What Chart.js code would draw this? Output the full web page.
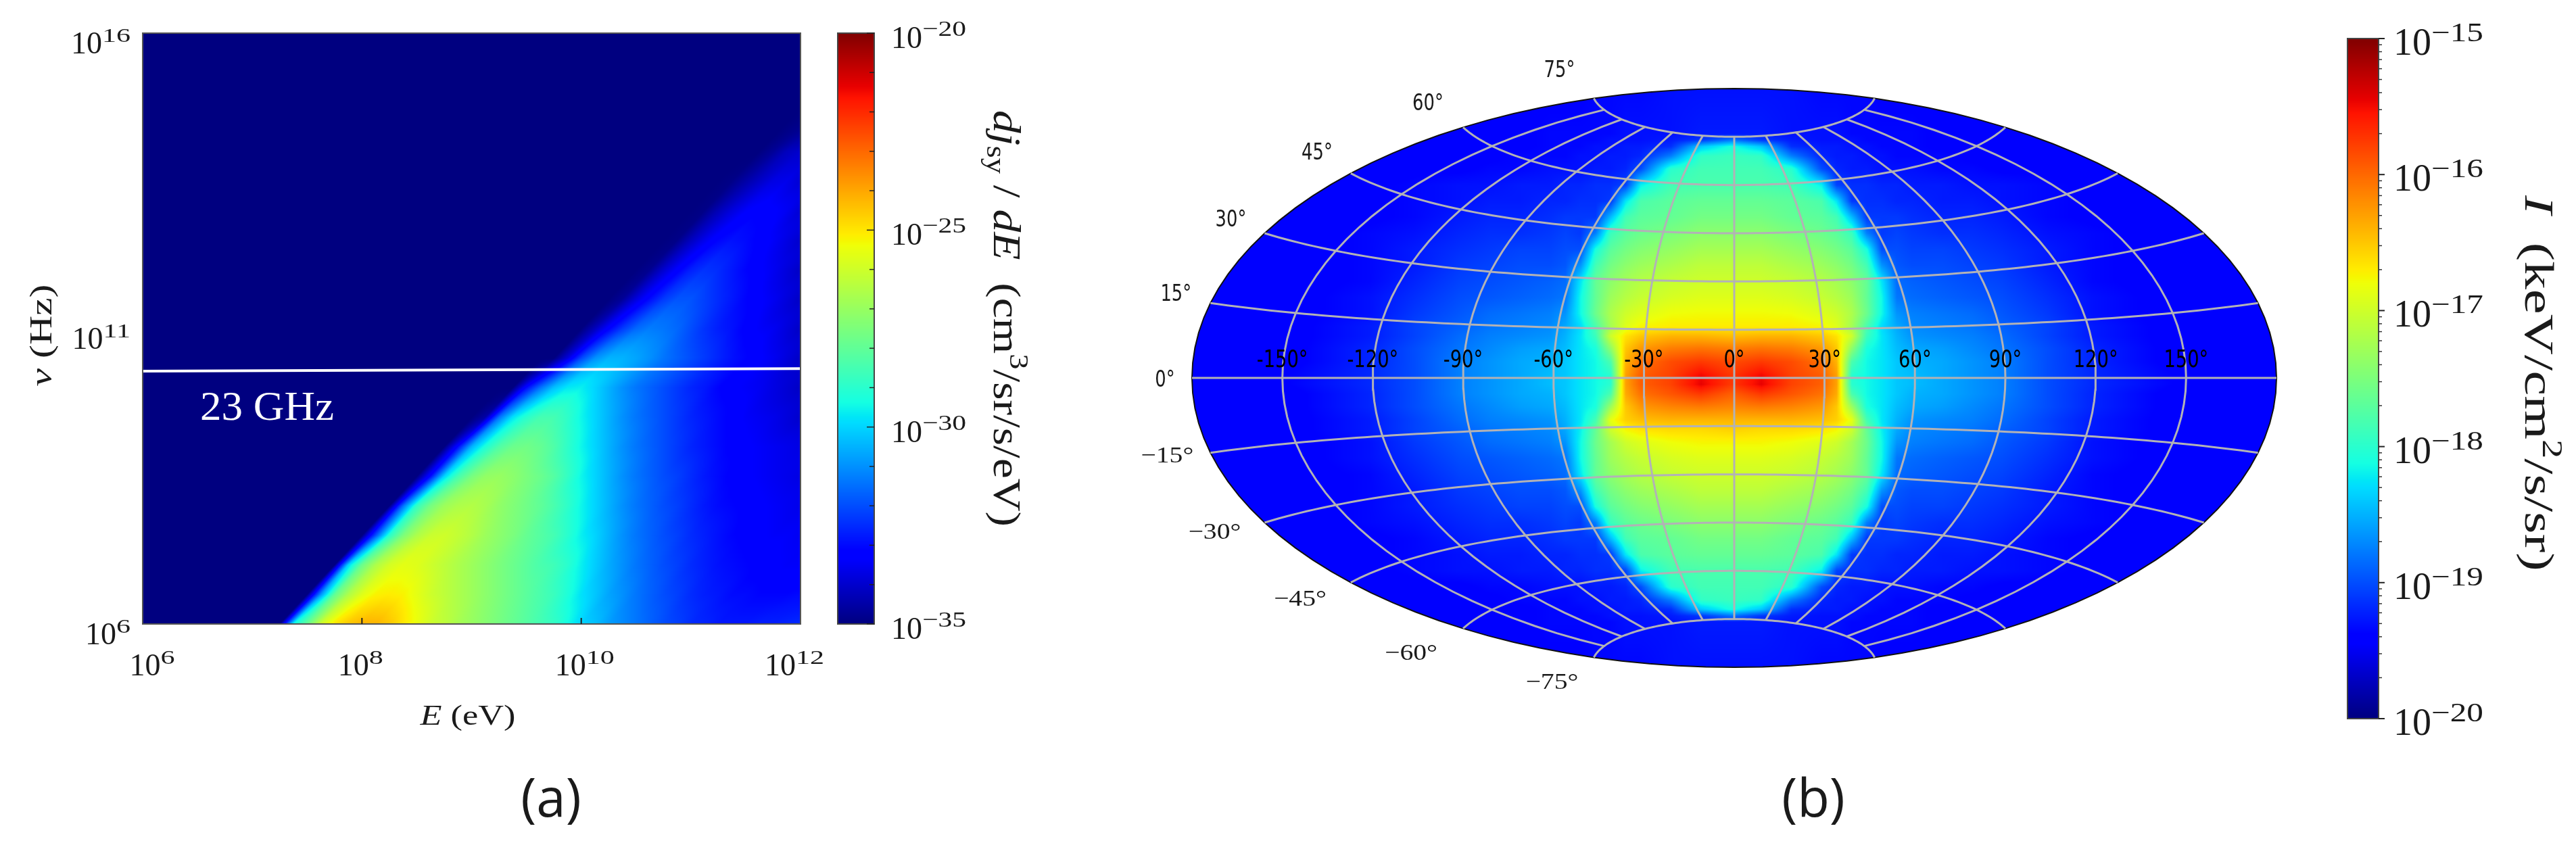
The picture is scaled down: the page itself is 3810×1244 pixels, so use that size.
<!DOCTYPE html>
<html>
<head>
<meta charset="utf-8">
<title>Synchrotron emissivity and sky map</title>
<script src="https://cdn.jsdelivr.net/npm/chart.js@4"></script>
<style>
    html, body { margin: 0; background: #fff; }
    #page { position: relative; width: 3810px; height: 1244px; overflow: hidden; }
    #page canvas { position: absolute; left: 0; top: 0; }
</style>
</head>
<body>
<div id="page">
    <canvas id="spectrumChart" width="3810" height="1244"></canvas>
    <canvas id="spectrumBar" width="3810" height="1244"></canvas>
    <canvas id="skyChart" width="3810" height="1244"></canvas>
    <canvas id="skyBar" width="3810" height="1244"></canvas>
</div>
<script>
// ---- Panel (a): log10(dj/dE) ----
const energyExp = [6, 6.125, 6.25, 6.375, 6.5, 6.625, 6.75, 6.875, 7, 7.125, 7.25, 7.375, 7.5, 7.625, 7.75, 7.875,
    8, 8.125, 8.25, 8.375, 8.5, 8.625, 8.75, 8.875, 9, 9.125, 9.25, 9.375, 9.5, 9.625, 9.75, 9.875,
    10, 10.125, 10.25, 10.375, 10.5, 10.625, 10.75, 10.875, 11, 11.125, 11.25, 11.375, 11.5, 11.625, 11.75, 11.875, 12];
const freqExp = [6, 6.5, 7, 7.5, 8, 8.5, 9, 9.5, 10, 10.5, 11, 11.5, 12, 12.5, 13, 13.5, 14, 14.5, 15, 15.5, 16];
const emissivityFloor = -35;
// each row ends at E = 10^12, everything to its left is the floor value
const emissivityRows = [
    [-29.4,-27.9,-26,-25,-24.5,-24.2,-24.2,-24.5,-25,-25.5,-26,-26.3,-26.7,-27,-27.3,-27.6,-27.9,-28.2,-28.5,-28.8,-29.4,
     -30,-30.3,-30.8,-31.1,-31.4,-31.7,-32,-32.2,-32.5,-32.6,-32.8,-32.8,-32.8,-32.7,-32.7,-32.6,-32.5],
    [-31,-28,-26.6,-25.7,-25.2,-25.1,-25.2,-25.6,-26,-26.3,-26.6,-26.9,-27.2,-27.5,-27.8,-28.1,-28.4,-28.7,-29.2,
     -29.8,-30.2,-30.7,-31,-31.4,-31.7,-32,-32.2,-32.5,-32.7,-32.8,-33,-33,-33.1,-33.1,-33.1,-33],
    [-30,-27.8,-26.6,-25.9,-25.6,-25.7,-26,-26.3,-26.6,-26.9,-27.2,-27.5,-27.8,-28.1,-28.4,-28.6,-29,
     -29.6,-30.1,-30.6,-31,-31.4,-31.7,-32,-32.2,-32.5,-32.7,-32.9,-33,-33.1,-33.2,-33.3,-33.4,-33.4],
    [-32,-29,-27.5,-26.6,-26.1,-26,-26.2,-26.5,-26.9,-27.2,-27.5,-27.9,-28.2,-28.5,-29,
     -29.6,-30,-30.5,-31,-31.4,-31.7,-32,-32.2,-32.5,-32.7,-32.9,-33.1,-33.2,-33.3,-33.4,-33.4,-33.5],
    [-31.5,-28.8,-27.6,-26.9,-26.6,-26.5,-26.7,-27.1,-27.4,-27.7,-28,-28.4,-28.9,
     -29.5,-30,-30.5,-31,-31.4,-31.7,-32,-32.2,-32.5,-32.8,-33,-33.1,-33.2,-33.3,-33.4,-33.5,-33.6],
    [-33,-30,-28.5,-27.6,-27.1,-27,-27.2,-27.5,-27.8,-28.2,-28.8,
     -29.5,-30,-30.5,-31,-31.4,-31.7,-32,-32.2,-32.5,-32.8,-33,-33.2,-33.3,-33.4,-33.5,-33.6,-33.7],
    [-33,-30.5,-29.2,-28.3,-27.8,-27.7,-27.9,-28.3,-28.9,
     -29.5,-30,-30.5,-31,-31.4,-31.7,-32,-32.3,-32.6,-32.8,-33,-33.2,-33.3,-33.4,-33.5,-33.6,-33.7],
    [-34.5,-31.5,-29.8,-29,-28.5,-28.5,-28.9,
     -29.5,-30,-30.5,-31,-31.4,-31.7,-32,-32.3,-32.6,-32.8,-33,-33.2,-33.4,-33.5,-33.6,-33.8,-34],
    [-33,-31.5,-30.3,-29.7,
     -29.6,-30,-30.5,-31,-31.4,-31.7,-32,-32.3,-32.6,-32.8,-33.1,-33.3,-33.4,-33.5,-33.7,-33.9,-34.1],
    [-33.8,-32.1,-31,-30.5,-30.5,-30.7,-31,-31.4,-31.7,-32,-32.3,-32.6,-32.9,-33.1,-33.3,-33.5,-33.8,-34.1],
    [-34.2,-33.2,-32.3,-31.6,-31.3,-31.4,-31.6,-32,-32.4,-32.7,-32.9,-33.2,-33.4,-33.5,-33.8,-34.1],
    [-34.7,-33.8,-33,-32.3,-31.9,-31.9,-32.2,-32.5,-32.8,-33.1,-33.3,-33.5,-33.8,-34.1],
    [-34.8,-34,-33.3,-32.7,-32.4,-32.5,-32.8,-33.1,-33.3,-33.5,-33.8,-34.1],
    [-34.9,-34.2,-33.6,-33.1,-32.9,-33,-33.2,-33.4,-33.7,-34],
    [-34.9,-34.3,-33.8,-33.4,-33.2,-33.3,-33.5,-33.9],
    [-34.9,-34.5,-34.1,-33.7,-33.6,-33.9],
    [-34.7,-34.2,-34],
    [-34.9],
    [], [], []
];
// the cut-off edge moves this many decades of E per decade of frequency
const edgeSlope = 0.52;

// 23 GHz line, slightly tilted in the picture
const lineEnergy = [1e6, 1e12];
const lineFreq = [1.9e10, 2.1e10];
const lineLabel = '23 GHz';

const energyTicks = [1e6, 1e8, 1e10, 1e12];
const energyTickExp = ['6', '8', '10', '12'];
const freqTicks = [1e6, 1e11, 1e16];
const freqTickExp = ['6', '11', '16'];
const spectrumBarTicks = [1e-20, 1e-25, 1e-30, 1e-35];
const spectrumBarTickExp = ['−20', '−25', '−30', '−35'];
const spectrumBarMinorTicks = [1e-21, 1e-22, 1e-23, 1e-24, 1e-26, 1e-27, 1e-28, 1e-29, 1e-31, 1e-32, 1e-33, 1e-34];

// ---- Panel (b): log10(I) on the map plane, left/right mirrored around the centre ----
const mapAbsX = [0, 10, 20, 30, 35, 40, 45, 50, 55, 60, 70, 80, 90, 105, 120, 150, 180];
const mapCentreX = -1;
const rowY90 = [-19.3,-19.3,-19.3,-19.35,-19.35,-19.35,-19.35,-19.4,-19.4,-19.4,-19.4,-19.4,-19.45,-19.45,-19.45,-19.45,-19.45];
const rowY76 = [-19.25,-19.25,-19.3,-19.3,-19.3,-19.35,-19.35,-19.35,-19.35,-19.35,-19.4,-19.4,-19.4,-19.45,-19.45,-19.45,-19.45];
const rowY74 = [-18.8,-19.1,-19.25,-19.3,-19.3,-19.3,-19.35,-19.35,-19.35,-19.35,-19.4,-19.4,-19.4,-19.45,-19.45,-19.45,-19.45];
const rowY72 = [-18.1,-18.4,-19.15,-19.25,-19.25,-19.3,-19.3,-19.35,-19.35,-19.35,-19.4,-19.4,-19.4,-19.45,-19.45,-19.45,-19.45];
const rowY69 = [-17.9,-17.95,-18.75,-19.2,-19.25,-19.25,-19.3,-19.3,-19.35,-19.35,-19.35,-19.4,-19.4,-19.45,-19.45,-19.45,-19.45];
const rowY65 = [-17.85,-17.85,-18,-19,-19.2,-19.25,-19.25,-19.3,-19.3,-19.3,-19.35,-19.35,-19.4,-19.4,-19.45,-19.45,-19.45];
const rowY60 = [-17.8,-17.8,-17.85,-18.2,-19.05,-19.15,-19.15,-19.2,-19.2,-19.25,-19.25,-19.3,-19.3,-19.35,-19.4,-19.45,-19.45];
const rowY55 = [-17.65,-17.65,-17.7,-17.8,-18.25,-19.1,-19.15,-19.15,-19.2,-19.2,-19.25,-19.25,-19.3,-19.35,-19.4,-19.45,-19.45];
const rowY50 = [-17.55,-17.55,-17.65,-17.7,-17.85,-18.45,-19.1,-19.1,-19.1,-19.15,-19.2,-19.2,-19.25,-19.35,-19.4,-19.45,-19.45];
const rowY45 = [-17.4,-17.4,-17.5,-17.6,-17.7,-17.9,-18.75,-19.1,-19.05,-19.1,-19.15,-19.15,-19.2,-19.3,-19.35,-19.45,-19.45];
const rowY40 = [-17.25,-17.25,-17.35,-17.45,-17.55,-17.7,-18.1,-19,-19,-19.05,-19.05,-19.1,-19.15,-19.25,-19.35,-19.45,-19.45];
const rowY35 = [-17.1,-17.1,-17.2,-17.3,-17.4,-17.55,-17.85,-18.65,-18.95,-19,-19,-19.05,-19.1,-19.25,-19.35,-19.45,-19.45];
const rowY30 = [-17,-17,-17.05,-17.15,-17.25,-17.4,-17.65,-18.25,-18.85,-18.9,-18.95,-19,-19.05,-19.2,-19.35,-19.45,-19.45];
const rowY25 = [-16.9,-16.9,-16.95,-17.05,-17.15,-17.3,-17.65,-18.15,-18.8,-18.85,-18.9,-18.95,-19,-19.15,-19.3,-19.45,-19.45];
const rowY20 = [-16.78,-16.78,-16.8,-16.9,-17,-17.2,-17.6,-18.15,-18.65,-18.75,-18.8,-18.85,-18.95,-19.1,-19.3,-19.45,-19.45];
const rowY16 = [-16.7,-16.7,-16.7,-16.75,-16.9,-17.25,-17.8,-18.3,-18.55,-18.7,-18.75,-18.8,-18.9,-19.05,-19.25,-19.45,-19.45];
const rowY13 = [-16.45,-16.4,-16.4,-16.5,-16.65,-17,-17.9,-18.25,-18.5,-18.65,-18.7,-18.75,-18.85,-19.05,-19.25,-19.45,-19.45];
const rowY9 = [-16.1,-16.05,-16.1,-16.25,-16.5,-17.4,-18.1,-18.25,-18.45,-18.55,-18.6,-18.7,-18.8,-19,-19.2,-19.45,-19.45];
const rowY5 = [-15.85,-15.75,-15.85,-16.05,-16.4,-17.8,-18.15,-18.25,-18.4,-18.5,-18.55,-18.65,-18.75,-19,-19.2,-19.45,-19.45];
const rowY1 = [-15.75,-15.5,-15.8,-15.95,-16.3,-18,-18.15,-18.25,-18.4,-18.45,-18.55,-18.65,-18.75,-19,-19.18,-19.4,-19.45];
const rowYm2 = [-15.75,-15.45,-15.8,-15.95,-16.3,-18,-18.15,-18.25,-18.4,-18.45,-18.55,-18.65,-18.75,-19,-19.18,-19.4,-19.45];
const rowYm5 = [-15.95,-15.75,-15.9,-16.05,-16.35,-17.8,-18.15,-18.25,-18.4,-18.5,-18.55,-18.65,-18.75,-19,-19.2,-19.45,-19.45];
const rowYm9 = [-16.15,-16.1,-16.15,-16.25,-16.5,-17.3,-18.1,-18.25,-18.45,-18.55,-18.6,-18.7,-18.8,-19,-19.2,-19.45,-19.45];
const rowYm13 = [-16.4,-16.4,-16.4,-16.45,-16.55,-16.85,-17.85,-18.25,-18.5,-18.65,-18.7,-18.75,-18.85,-19.05,-19.25,-19.45,-19.45];
const rowYm16 = [-16.55,-16.6,-16.6,-16.65,-16.75,-17,-17.65,-18.2,-18.55,-18.7,-18.75,-18.8,-18.9,-19.05,-19.25,-19.45,-19.45];
const rowYm20 = [-16.75,-16.75,-16.8,-16.9,-17,-17.25,-17.6,-18.15,-18.65,-18.75,-18.8,-18.85,-18.95,-19.1,-19.3,-19.45,-19.45];

const mapY = [-90, -76, -74, -72, -69, -65, -60, -55, -50, -45, -40, -35, -30, -25, -20, -16, -13, -9, -5, -2,
    1, 5, 9, 13, 16, 20, 25, 30, 35, 40, 45, 50, 55, 60, 65, 69, 72, 74, 76, 90];
// south of the band the lobe repeats the north lobe
const mapRows = [rowY90, rowY76, rowY74, rowY72, rowY69, rowY65, rowY60, rowY55, rowY50, rowY45, rowY40, rowY35, rowY30, rowY25,
    rowYm20, rowYm16, rowYm13, rowYm9, rowYm5, rowYm2,
    rowY1, rowY5, rowY9, rowY13, rowY16, rowY20,
    rowY25, rowY30, rowY35, rowY40, rowY45, rowY50, rowY55, rowY60, rowY65, rowY69, rowY72, rowY74, rowY76, rowY90];

const lonTicks = [-150, -120, -90, -60, -30, 0, 30, 60, 90, 120, 150];
const latTicks = [75, 60, 45, 30, 15, 0, -15, -30, -45, -60, -75];
const skyBarTicks = [1e-15, 1e-16, 1e-17, 1e-18, 1e-19, 1e-20];
const skyBarTickExp = ['−15', '−16', '−17', '−18', '−19', '−20'];
const skyBarMinorFactors = [2, 3, 4, 5, 6, 7, 8, 9];

// ---- Layout (pixels on the page) ----
const spectrumArea = { left: 211, right: 1184, top: 49, bottom: 923 };
const spectrumBarArea = { left: 1239, right: 1293, top: 49, bottom: 923 };
const skyArea = { left: 1763, right: 3367, top: 131, bottom: 987 };
const skyBarArea = { left: 3472, right: 3518, top: 57, bottom: 1063 };
// label centre relative to the point where the parallel meets the map edge
const latLabelShift = [[-51, -44], [-52, -37], [-50, -32], [-50, -22], [-51, -15], [-40, 1],
    [-64, 2], [-74, 12], [-75, 22], [-77, 34], [-62, 35]];
const energyLabelShift = [14, -2, 5, -9];

const SERIF = '"Liberation Serif"';
const SANS = '"DejaVu Sans"';
const INK = '#1a1a1a';

// jet colormap, same breakpoints as matplotlib
const jetRed = [[0, 0], [0.35, 0], [0.66, 1], [0.89, 1], [1, 0.5]];
const jetGreen = [[0, 0], [0.125, 0], [0.375, 1], [0.64, 1], [0.91, 0], [1, 0]];
const jetBlue = [[0, 0.5], [0.11, 1], [0.34, 1], [0.65, 0], [1, 0]];

function channel(stops, f) {
    for (let i = 1; i < stops.length; i++) {
        if (f <= stops[i][0]) {
            const t = (f - stops[i - 1][0]) / (stops[i][0] - stops[i - 1][0]);
            return 255 * (stops[i - 1][1] + t * (stops[i][1] - stops[i - 1][1]));
        }
    }
    return 255 * stops[stops.length - 1][1];
}

// index of the node pair around v, plus the fraction between them
function bracket(nodes, v) {
    let i = 0;
    while (i < nodes.length - 2 && v > nodes[i + 1]) i++;
    const t = (v - nodes[i]) / (nodes[i + 1] - nodes[i]);
    return [i, Math.max(0, Math.min(1, t))];
}

function sampleRow(row, nodes, v) {
    const [i, t] = bracket(nodes, v);
    return row[i] + t * (row[i + 1] - row[i]);
}

// Paint a value grid into the chart area, going through the chart scales for every pixel
function heatPlugin(id, cfg) {
    return {
        id: id,
        beforeDatasetsDraw(chart) {
            const { left, top, width, height } = chart.chartArea;
            const w = Math.round(width), h = Math.round(height);
            const off = document.createElement('canvas');
            off.width = w;
            off.height = h;
            const octx = off.getContext('2d');
            const img = octx.createImageData(w, h);
            const shear = cfg.shear || 0;
            const xv = [], yv = [];
            for (let px = 0; px < w; px++) xv.push(cfg.toX(chart.scales.x.getValueForPixel(left + px + 0.5)));
            for (let py = 0; py < h; py++) yv.push(cfg.toY(chart.scales.y.getValueForPixel(top + py + 0.5)));
            const xs = xv.map(v => (cfg.foldX ? cfg.foldX(v) : v));
            for (let py = 0; py < h; py++) {
                const [j, tj] = bracket(cfg.yNodes, yv[py]);
                const dy0 = yv[py] - cfg.yNodes[j], dy1 = cfg.yNodes[j + 1] - yv[py];
                for (let px = 0; px < w; px++) {
                    if (cfg.mask && !cfg.mask(xv[px], yv[py])) continue;
                    const a = sampleRow(cfg.grid[j], cfg.xNodes, xs[px] - shear * dy0);
                    const b = sampleRow(cfg.grid[j + 1], cfg.xNodes, xs[px] + shear * dy1);
                    const f = ((a + tj * (b - a)) - cfg.vmin) / (cfg.vmax - cfg.vmin);
                    const k = (py * w + px) * 4;
                    img.data[k] = channel(jetRed, f);
                    img.data[k + 1] = channel(jetGreen, f);
                    img.data[k + 2] = channel(jetBlue, f);
                    img.data[k + 3] = 255;
                }
            }
            octx.putImageData(img, 0, 0);
            chart.ctx.drawImage(off, left, top);
        }
    };
}

// Text made of runs with their own font, raise and stretch; width forces the total length
function drawRuns(ctx, runs, x, y, opts) {
    const o = Object.assign({ align: 'left', angle: 0, width: null, color: INK }, opts);
    ctx.save();
    ctx.fillStyle = o.color;
    ctx.textBaseline = 'alphabetic';
    ctx.textAlign = 'left';
    let total = 0;
    runs.forEach(r => {
        ctx.font = r.font;
        total += ctx.measureText(r.t).width * (r.sx || 1);
    });
    const stretch = o.width ? o.width / total : 1;
    total *= stretch;
    ctx.translate(x, y);
    ctx.rotate(o.angle);
    let cx = o.align === 'center' ? -total / 2 : (o.align === 'right' ? -total : 0);
    runs.forEach(r => {
        const sx = (r.sx || 1) * stretch;
        ctx.font = r.font;
        ctx.save();
        ctx.translate(cx, -(r.rise || 0));
        ctx.scale(sx, 1);
        ctx.fillText(r.t, 0, 0);
        ctx.restore();
        cx += ctx.measureText(r.t).width * sx;
    });
    ctx.restore();
}

function powerOfTen(exp, baseSize, expSize, rise, expStretch) {
    return [
        { t: '10', font: baseSize + 'px ' + SERIF },
        { t: exp, font: expSize + 'px ' + SERIF, rise: rise, sx: expStretch }
    ];
}

function strokeTick(ctx, x1, y1, x2, y2, color, width) {
    ctx.save();
    ctx.strokeStyle = color;
    ctx.lineWidth = width;
    ctx.beginPath();
    ctx.moveTo(x1, y1);
    ctx.lineTo(x2, y2);
    ctx.stroke();
    ctx.restore();
}

function frame(chart, color, width) {
    const a = chart.chartArea;
    const ctx = chart.ctx;
    ctx.save();
    ctx.strokeStyle = color;
    ctx.lineWidth = width;
    ctx.strokeRect(a.left, a.top, a.right - a.left, a.bottom - a.top);
    ctx.restore();
}

function baseOptions(area, scales) {
    return {
        responsive: false,
        animation: false,
        devicePixelRatio: 1,
        events: [],
        layout: { padding: { left: area.left, top: area.top, right: 3810 - area.right, bottom: 1244 - area.bottom } },
        plugins: { legend: { display: false }, tooltip: { enabled: false } },
        scales: scales
    };
}

function aitoff(lonDeg, latDeg) {
    const lon = lonDeg * Math.PI / 180, lat = latDeg * Math.PI / 180;
    const alpha = Math.acos(Math.cos(lat) * Math.cos(lon / 2));
    const sinc = alpha < 1e-9 ? 1 : Math.sin(alpha) / alpha;
    return {
        x: (2 * Math.cos(lat) * Math.sin(lon / 2) / sinc) * 180 / Math.PI,
        y: (Math.sin(lat) / sinc) * 180 / Math.PI
    };
}

// Graticule curves, run through the projection
function parallelPoints(lat) {
    const pts = [];
    for (let lon = -180; lon <= 180; lon += 3) pts.push(aitoff(lon, lat));
    return pts;
}

function meridianPoints(lon, latMax) {
    const pts = [];
    for (let lat = -latMax; lat <= latMax; lat += 3) pts.push(aitoff(lon, lat));
    return pts;
}

function lineSet(points, color, width) {
    return {
        data: points, showLine: true, borderColor: color, borderWidth: width,
        pointRadius: 0, tension: 0, fill: false, clip: false, parsing: false
    };
}

// Panel (a)
function initSpectrumChart() {
    const grid = emissivityRows.map(r => new Array(energyExp.length - r.length).fill(emissivityFloor).concat(r));
    const labels = {
        id: 'spectrumLabels',
        afterDraw(chart) {
            const ctx = chart.ctx;
            const { x, y } = chart.scales;
            frame(chart, '#555', 2);
            energyTicks.forEach((e, i) => {
                const px = x.getPixelForValue(e);
                if (i > 0 && i < energyTicks.length - 1) strokeTick(ctx, px, spectrumArea.bottom, px, spectrumArea.bottom - 9, '#222', 2);
                drawRuns(ctx, powerOfTen(energyTickExp[i], 46, 30, 17, 1.4), px + energyLabelShift[i], spectrumArea.bottom + 76, { align: 'center' });
            });
            freqTicks.forEach((f, i) => {
                drawRuns(ctx, powerOfTen(freqTickExp[i], 46, 30, 17, 1.4), 193, y.getPixelForValue(f) + 30, { align: 'right' });
            });
            drawRuns(ctx, [{ t: 'E', font: 'italic 42px ' + SERIF }, { t: ' (eV)', font: '42px ' + SERIF }], 692, 1072, { align: 'center', width: 141 });
            drawRuns(ctx, [{ t: 'ν', font: 'italic 46px ' + SERIF }, { t: ' (Hz)', font: '46px ' + SERIF }], 76, 496,
                { align: 'center', angle: -Math.PI / 2, width: 151 });
            drawRuns(ctx, [{ t: lineLabel, font: '62px ' + SERIF }], 296, 621, { color: '#fff', width: 198 });
            drawRuns(ctx, [{ t: '(a)', font: '78px "Open Sans"' }], 815, 1208, { align: 'center' });
        }
    };
    new Chart(document.getElementById('spectrumChart'), {
        type: 'scatter',
        data: {
            datasets: [{
                data: lineEnergy.map((e, i) => ({ x: e, y: lineFreq[i] })),
                showLine: true, borderColor: '#fff', borderWidth: 4, pointRadius: 0
            }]
        },
        options: baseOptions(spectrumArea, {
            x: { type: 'logarithmic', min: 1e6, max: 1e12, display: false },
            y: { type: 'logarithmic', min: 1e6, max: 1e16, display: false }
        }),
        plugins: [heatPlugin('spectrumHeat', {
            xNodes: energyExp, yNodes: freqExp, grid: grid, shear: edgeSlope,
            toX: Math.log10, toY: Math.log10, vmin: -35, vmax: -20
        }), labels]
    });
}

// Colorbar of panel (a)
function initSpectrumBar() {
    const labels = {
        id: 'spectrumBarLabels',
        afterDraw(chart) {
            const ctx = chart.ctx;
            const y = chart.scales.y;
            frame(chart, '#444', 2);
            spectrumBarMinorTicks.forEach(t => {
                const py = y.getPixelForValue(t);
                strokeTick(ctx, spectrumBarArea.right - 7, py, spectrumBarArea.right, py, '#222', 1.5);
            });
            spectrumBarTicks.forEach((t, i) => {
                const py = y.getPixelForValue(t);
                strokeTick(ctx, spectrumBarArea.right - 11, py, spectrumBarArea.right, py, '#222', 1.5);
                drawRuns(ctx, powerOfTen(spectrumBarTickExp[i], 46, 32, 18, 1.3), 1318, py + 22);
            });
            drawRuns(ctx, [
                { t: 'dj', font: 'italic 58px ' + SERIF },
                { t: 'sy', font: '40px ' + SERIF, rise: -10 },
                { t: ' / ', font: '58px ' + SERIF },
                { t: 'dE', font: 'italic 58px ' + SERIF },
                { t: '  (cm', font: '58px ' + SERIF },
                { t: '3', font: '40px ' + SERIF, rise: 24 },
                { t: '/sr/s/eV)', font: '58px ' + SERIF }
            ], 1470, 471, { align: 'center', angle: Math.PI / 2, width: 616 });
        }
    };
    new Chart(document.getElementById('spectrumBar'), {
        type: 'scatter',
        data: { datasets: [{ data: [] }] },
        options: baseOptions(spectrumBarArea, {
            x: { type: 'linear', min: 0, max: 1, display: false },
            y: { type: 'logarithmic', min: 1e-35, max: 1e-20, display: false }
        }),
        plugins: [heatPlugin('spectrumBarHeat', {
            xNodes: [0, 1], yNodes: [-35, -20], grid: [[-35, -35], [-20, -20]],
            toX: v => v, toY: Math.log10, vmin: -35, vmax: -20
        }), labels]
    });
}

// Panel (b)
function initSkyChart() {
    const gridColor = '#b2b2b6';
    const datasets = [];
    latTicks.forEach(lat => datasets.push(lineSet(parallelPoints(lat), gridColor, 3)));
    lonTicks.forEach(lon => datasets.push(lineSet(meridianPoints(lon, 75), gridColor, 3)));
    datasets.push(lineSet(meridianPoints(180, 90).concat(meridianPoints(-180, 90).reverse(), [aitoff(180, -90)]), '#111', 2));

    const labels = {
        id: 'skyLabels',
        afterDraw(chart) {
            const ctx = chart.ctx;
            const { x, y } = chart.scales;
            lonTicks.forEach(lon => {
                drawRuns(ctx, [{ t: lon + '°', font: '36px ' + SANS, sx: 0.76 }], x.getPixelForValue(lon), y.getPixelForValue(0) - 16,
                    { align: 'center', color: '#000' });
            });
            latTicks.forEach((lat, i) => {
                const edge = aitoff(-180, lat);
                const px = x.getPixelForValue(edge.x) + latLabelShift[i][0];
                const py = y.getPixelForValue(edge.y) + latLabelShift[i][1] + 12;
                if (lat >= 0) {
                    drawRuns(ctx, [{ t: lat + '°', font: '34px ' + SANS, sx: 0.76 }], px, py, { align: 'center' });
                } else {
                    drawRuns(ctx, [{ t: '−' + (-lat) + '°', font: '34px ' + SERIF }], px, py, { align: 'center', width: 78 });
                }
            });
            drawRuns(ctx, [{ t: '(b)', font: '78px "Open Sans"' }], 2682, 1208, { align: 'center' });
        }
    };
    new Chart(document.getElementById('skyChart'), {
        type: 'scatter',
        data: { datasets: datasets },
        options: baseOptions(skyArea, {
            x: { type: 'linear', min: -180, max: 180, display: false },
            y: { type: 'linear', min: -90, max: 90, display: false }
        }),
        plugins: [heatPlugin('skyHeat', {
            xNodes: mapAbsX, yNodes: mapY, grid: mapRows,
            toX: v => v, toY: v => v, foldX: v => Math.abs(v - mapCentreX), vmin: -20, vmax: -15,
            mask: (x, y) => (x * x) / (180 * 180) + (y * y) / (90 * 90) <= 1
        }), labels]
    });
}

// Colorbar of panel (b)
function initSkyBar() {
    const labels = {
        id: 'skyBarLabels',
        afterDraw(chart) {
            const ctx = chart.ctx;
            const y = chart.scales.y;
            frame(chart, '#444', 2);
            skyBarTicks.forEach((t, i) => {
                const py = y.getPixelForValue(t);
                strokeTick(ctx, skyBarArea.right, py, skyBarArea.right + 9, py, '#222', 2);
                if (i < skyBarTicks.length - 1) {
                    skyBarMinorFactors.forEach(m => {
                        const my = y.getPixelForValue(m * skyBarTicks[i + 1]);
                        strokeTick(ctx, skyBarArea.right, my, skyBarArea.right + 5, my, '#333', 1.5);
                    });
                }
                drawRuns(ctx, powerOfTen(skyBarTickExp[i], 56, 40, 20, 1.23), 3540, py + 24);
            });
            drawRuns(ctx, [
                { t: 'I', font: 'italic 62px ' + SERIF },
                { t: '  (keV/cm', font: '62px ' + SERIF },
                { t: '2', font: '42px ' + SERIF, rise: 26 },
                { t: '/s/sr)', font: '62px ' + SERIF }
            ], 3735, 567, { align: 'center', angle: Math.PI / 2, width: 556 });
        }
    };
    new Chart(document.getElementById('skyBar'), {
        type: 'scatter',
        data: { datasets: [{ data: [] }] },
        options: baseOptions(skyBarArea, {
            x: { type: 'linear', min: 0, max: 1, display: false },
            y: { type: 'logarithmic', min: 1e-20, max: 1e-15, display: false }
        }),
        plugins: [heatPlugin('skyBarHeat', {
            xNodes: [0, 1], yNodes: [-20, -15], grid: [[-20, -20], [-15, -15]],
            toX: v => v, toY: Math.log10, vmin: -20, vmax: -15
        }), labels]
    });
}

// Dashboard initialization
initSpectrumChart();
initSpectrumBar();
initSkyChart();
initSkyBar();
</script>
</body>
</html>
